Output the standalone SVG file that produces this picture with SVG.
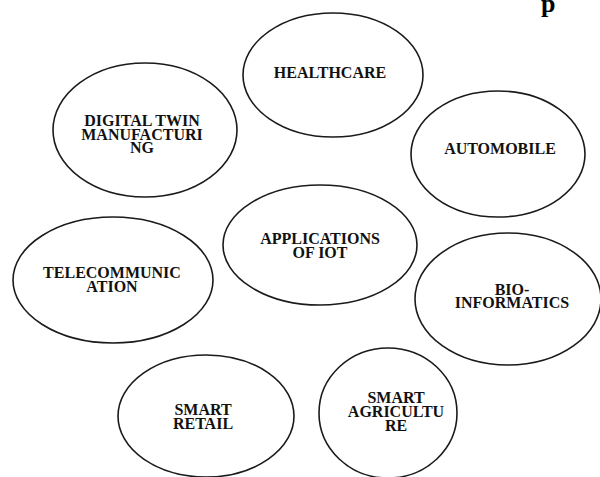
<svg xmlns="http://www.w3.org/2000/svg" width="600" height="477" viewBox="0 0 600 477">
  <style>
    .bubble { fill: #ffffff; stroke: #1a1a1a; stroke-width: 1.6; }
    .label { font-family: "Liberation Serif", "Times New Roman", serif; font-weight: bold; font-size: 16px; fill: #111111; text-anchor: middle; }
    .title { font-family: "Liberation Serif", "Times New Roman", serif; font-weight: bold; font-size: 26px; fill: #000000; }
  </style>
  <rect width="600" height="477" fill="#ffffff"/>

  <!-- tail of the heading, clipped by the top edge -->
  <text class="title" x="541" y="12">p</text>

  <!-- no connectors: the application bubbles stand on their own -->
  <g id="connectors"/>

  <g id="healthcare">
    <ellipse class="bubble" cx="333" cy="75" rx="90" ry="62"/>
    <text class="label" x="330" y="78">HEALTHCARE</text>
  </g>

  <g id="digital-twin">
    <ellipse class="bubble" cx="145" cy="130" rx="92" ry="67"/>
    <text class="label" x="142" y="126">DIGITAL TWIN</text>
    <text class="label" x="142" y="139.5">MANUFACTURI</text>
    <text class="label" x="142" y="153">NG</text>
  </g>

  <g id="automobile">
    <ellipse class="bubble" cx="498" cy="154" rx="87" ry="63"/>
    <text class="label" x="500" y="154">AUTOMOBILE</text>
  </g>

  <g id="applications-of-iot">
    <ellipse class="bubble" cx="320" cy="245" rx="97" ry="60"/>
    <text class="label" x="320" y="244">APPLICATIONS</text>
    <text class="label" x="320" y="257.5">OF IOT</text>
  </g>

  <g id="telecommunication">
    <ellipse class="bubble" cx="113" cy="280" rx="100" ry="63"/>
    <text class="label" x="112" y="278">TELECOMMUNIC</text>
    <text class="label" x="112" y="292">ATION</text>
  </g>

  <g id="bio-informatics">
    <ellipse class="bubble" cx="508" cy="299" rx="93" ry="66"/>
    <text class="label" x="512" y="294.5">BIO-</text>
    <text class="label" x="512" y="308">INFORMATICS</text>
  </g>

  <g id="smart-retail">
    <ellipse class="bubble" cx="206" cy="416" rx="88" ry="61"/>
    <text class="label" x="203" y="415">SMART</text>
    <text class="label" x="203" y="428.5">RETAIL</text>
  </g>

  <g id="smart-agriculture">
    <ellipse class="bubble" cx="388" cy="413" rx="69" ry="65"/>
    <text class="label" x="396" y="403">SMART</text>
    <text class="label" x="396" y="417">AGRICULTU</text>
    <text class="label" x="396" y="431">RE</text>
  </g>
</svg>
